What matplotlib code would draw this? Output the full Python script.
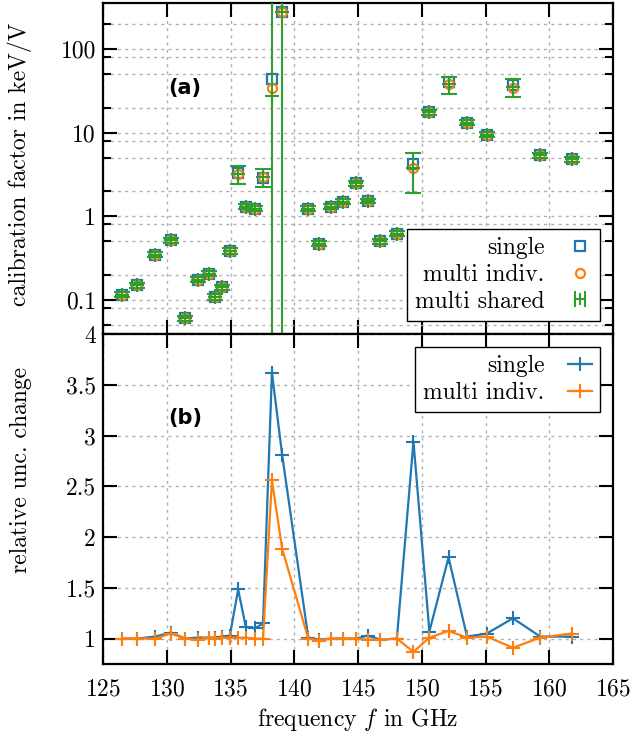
import numpy as np
import matplotlib
matplotlib.use("Agg")
import matplotlib.pyplot as plt
from matplotlib.ticker import LogLocator, FuncFormatter, NullFormatter, FixedLocator
from matplotlib.lines import Line2D
from matplotlib.legend_handler import HandlerLine2D, HandlerTuple

# ---------------- data ----------------
freq = [126.5, 127.7, 129.1, 130.3, 131.45, 132.45, 133.3, 133.75, 134.35, 134.95,
        135.6, 136.2, 136.9, 137.55, 138.25, 139.05, 141.1, 141.95, 142.85, 143.8,
        144.85, 145.75, 146.75, 148.05, 149.35, 150.6, 152.1, 153.55, 155.1, 157.15,
        159.3, 161.75]

cal_single = [0.115, 0.150, 0.346, 0.52, 0.060, 0.174, 0.206, 0.108, 0.142, 0.386,
              3.3, 1.31, 1.24, 2.9, 44.4, 280, 1.23, 0.47, 1.30, 1.50,
              2.48, 1.53, 0.50, 0.62, 4.2, 17.6, 40.5, 13.3, 9.5, 37.0,
              5.43, 4.82]
cal_multi_indiv = [0.115, 0.150, 0.346, 0.52, 0.060, 0.174, 0.206, 0.108, 0.142, 0.386,
                   3.2, 1.31, 1.24, 2.95, 34.3, 280, 1.23, 0.47, 1.30, 1.50,
                   2.48, 1.53, 0.50, 0.62, 3.75, 17.6, 38.5, 13.3, 9.5, 34.0,
                   5.43, 4.82]
cal_multi_shared = [0.115, 0.150, 0.346, 0.52, 0.060, 0.174, 0.206, 0.108, 0.142, 0.386,
                    3.2, 1.31, 1.24, 2.95, 28.0, 280, 1.23, 0.47, 1.30, 1.50,
                    2.48, 1.53, 0.50, 0.62, 3.8, 17.6, 38.0, 13.3, 9.5, 35.5,
                    5.43, 4.82]
cal_multi_shared_err = [0.008, 0.010, 0.024, 0.036, 0.004, 0.012, 0.014, 0.008, 0.010, 0.027,
                        0.78, 0.09, 0.09, 0.70, 1e4, 1e4, 0.085, 0.033, 0.09, 0.10,
                        0.17, 0.10, 0.035, 0.043, 1.9, 1.2, 8.6, 0.9, 0.65, 8.9,
                        0.38, 0.33]

rel_single = [1.0, 1.0, 1.02, 1.06, 1.0, 1.01, 1.01, 1.01, 1.02, 1.03,
              1.485, 1.115, 1.10, 1.15, 3.62, 2.81, 1.01, 0.99, 1.0, 1.0,
              1.0, 1.03, 0.99, 1.0, 2.94, 1.07, 1.80, 1.02, 1.05, 1.20,
              1.02, 1.02]
rel_multi_indiv = [1.0, 1.0, 1.0, 1.05, 1.0, 0.99, 1.01, 1.0, 1.01, 1.01,
                   1.01, 1.01, 1.0, 1.0, 2.56, 1.886, 1.0, 0.98, 1.0, 1.0,
                   1.0, 0.99, 0.99, 1.0, 0.87, 1.01, 1.075, 1.01, 1.02, 0.91,
                   1.01, 1.05]

x_ticks = [125, 130, 135, 140, 145, 150, 155, 160, 165]
rel_ticks = [1, 1.5, 2, 2.5, 3, 3.5, 4]

# ---------------- style ----------------
plt.rcParams['font.family'] = ['cmr10', 'DejaVu Serif']
plt.rcParams['mathtext.fontset'] = 'cm'
plt.rcParams['axes.unicode_minus'] = False
plt.rcParams['axes.formatter.use_mathtext'] = True
FS = 17

BLUE = '#1f77b4'
ORANGE = '#ff7f0e'
GREEN = '#2ca02c'
GRIDC = '#b0b0b0'
GRID_LS = (0, (2.2, 3.0))

fig = plt.figure(figsize=(6.31, 7.38), dpi=100)
L, W = 103 / 631, 510 / 631
ax1 = fig.add_axes([L, 404 / 738, W, 330.7 / 738])
ax2 = fig.add_axes([L, 74 / 738, W, 330 / 738])

for ax in (ax1, ax2):
    for s in ax.spines.values():
        s.set_linewidth(1.6)
    ax.set_xlim(125, 165)
    ax.xaxis.set_major_locator(FixedLocator(x_ticks))
    ax.tick_params(which='both', direction='in', top=True, right=True,
                   labelsize=FS, width=1.5)
    ax.tick_params(which='major', length=10)
    ax.tick_params(which='minor', length=5.5)
    ax.tick_params(axis='x', pad=10)
    ax.tick_params(axis='y', pad=5)
    ax.set_axisbelow(True)
    ax.grid(True, axis='x', which='major', color=GRIDC, lw=1.0, ls=GRID_LS)

LEG_KW = dict(markerfirst=False, fontsize=FS, frameon=True, fancybox=False,
              framealpha=1, edgecolor='black', borderaxespad=0.55,
              handlelength=1.0, handletextpad=1.0, labelspacing=0.2,
              borderpad=0.35)

# ---------------- top panel ----------------
ax1.set_yscale('log')
ax1.set_ylim(0.039, 356)
ax1.yaxis.set_major_locator(LogLocator(base=10, subs=(1.0,)))
ax1.yaxis.set_minor_locator(LogLocator(base=10, subs=(2.0, 5.0, 8.0)))
ax1.yaxis.set_major_formatter(FuncFormatter(lambda v, p: '%g' % v))
ax1.yaxis.set_minor_formatter(NullFormatter())
ax1.grid(True, axis='y', which='both', color=GRIDC, lw=1.0, ls=GRID_LS)
ax1.tick_params(axis='x', labelbottom=False)

vals = np.array(cal_multi_shared)
errs = np.array(cal_multi_shared_err)
lower = np.minimum(errs, vals - 1e-3)

ax1.plot(freq, cal_single, ls='none', marker='s', ms=6.5, mfc='none', mec=BLUE, mew=1.6,
         zorder=3)
ax1.plot(freq, cal_multi_indiv, ls='none', marker='o', ms=6.5, mfc='none', mec=ORANGE,
         mew=1.6, zorder=4)
ax1.errorbar(freq, cal_multi_shared, yerr=[lower, errs], fmt='+', color=GREEN, ms=10,
             mew=1.5, elinewidth=1.5, capsize=5.5, capthick=1.5, zorder=5)

h_sq = Line2D([], [], ls='none', marker='s', ms=6.5, mfc='none', mec=BLUE, mew=1.6)
h_ci = Line2D([], [], ls='none', marker='o', ms=6.5, mfc='none', mec=ORANGE, mew=1.6)
h_eb_line = Line2D([], [], color=GREEN, lw=1.5, marker='|', ms=12, mew=1.5)
h_eb_mid = Line2D([], [], ls='none', color=GREEN, marker='|', ms=9, mew=1.5)
leg1 = ax1.legend([h_sq, h_ci, (h_eb_line, h_eb_mid)],
                  ['single', 'multi indiv.', 'multi shared'],
                  handler_map={h_eb_line: HandlerLine2D(numpoints=2),
                               h_eb_mid: HandlerLine2D(numpoints=1),
                               tuple: HandlerTuple(ndivide=1)},
                  loc='lower right', **LEG_KW)
leg1.get_frame().set_linewidth(1.0)

ax1.set_ylabel('calibration factor in keV/V', fontsize=FS)
ax1.yaxis.set_label_coords(-0.14, 0.514)
ax1.text(0.161, 0.744, '(a)', transform=ax1.transAxes, fontsize=15, fontweight='bold',
         family='DejaVu Sans', ha='center', va='center')

# ---------------- bottom panel ----------------
ax2.set_ylim(0.75, 4)
ax2.yaxis.set_major_locator(FixedLocator(rel_ticks))
ax2.yaxis.set_major_formatter(FuncFormatter(lambda v, p: '%g' % v))
ax2.grid(True, axis='y', which='major', color=GRIDC, lw=1.0, ls=GRID_LS)

ax2.plot(freq, rel_single, color=BLUE, lw=1.6, marker='+', ms=10, mew=1.5, label='single')
ax2.plot(freq, rel_multi_indiv, color=ORANGE, lw=1.6, marker='+', ms=10, mew=1.5,
         label='multi indiv.')
leg2 = ax2.legend(loc='upper right', **LEG_KW)
leg2.get_frame().set_linewidth(1.0)

ax2.set_ylabel('relative unc. change', fontsize=FS)
ax2.yaxis.set_label_coords(-0.14, 0.588)
ax2.set_xlabel('frequency $f$ in GHz', fontsize=FS)
ax2.text(0.161, 0.745, '(b)', transform=ax2.transAxes, fontsize=15, fontweight='bold',
         family='DejaVu Sans', ha='center', va='center')

fig.savefig('out.png', dpi=100)
